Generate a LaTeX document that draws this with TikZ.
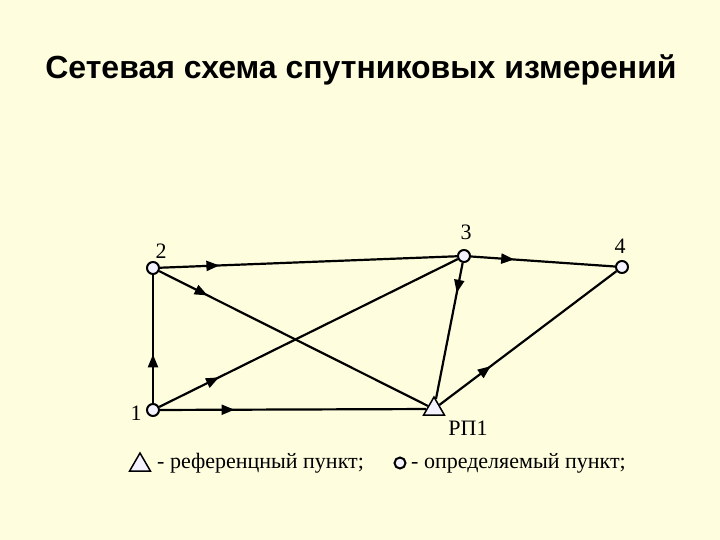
\documentclass[tikz,border=0pt]{standalone}
\usepackage{fontspec}
\setmainfont{Liberation Serif}
\newfontfamily\titlefont{Liberation Sans}
\usetikzlibrary{arrows.meta,decorations.markings,shapes.geometric}
\definecolor{slidebg}{HTML}{FEFEDF}
\definecolor{pointfill}{HTML}{F4F2FF}
\tikzset{
  point/.style={draw, circle, line width=2pt, fill=pointfill, minimum size=12pt, inner sep=0pt},
  refpoint/.style={draw, regular polygon, regular polygon sides=3, line width=1.5pt, fill=pointfill, minimum size=24pt, inner sep=0pt},
  link/.style={line width=2.2pt, postaction={decorate},
    decoration={markings, mark=at position #1 with {\arrow{Triangle[length=13pt,width=10pt]}}}},
  lbl/.style={font=\fontsize{22}{22}\selectfont, inner sep=0pt}
}
\begin{document}
\begin{tikzpicture}[x=1pt,y=-1pt]
\useasboundingbox[fill=slidebg] (0,0) rectangle (720,540);
\node[font=\titlefont\bfseries\fontsize{32}{32}\selectfont] (title) at (361,70) {Сетевая схема спутниковых измерений};
\node[point] (1) at (153,410) {};
\node[point] (2) at (153,268) {};
\node[point] (3) at (464,256) {};
\node[point] (4) at (622,267) {};
\node[refpoint] (rp) at (434,409) {};
\node[lbl] (l1) at (136,413) {1};
\node[lbl] (l2) at (161,251) {2};
\node[lbl] (l3) at (466,232) {3};
\node[lbl] (l4) at (620,246) {4};
\node[lbl] (lrp) at (468,428) {РП1};
\path[draw,link=0.38] (1) -- (2);
\path[draw,link=0.2] (2) -- (3);
\path[draw,link=0.18] (2) -- (rp);
\path[draw,link=0.2] (1) -- (3);
\path[draw,link=0.28] (1) -- (rp);
\path[draw,link=0.3] (3) -- (4);
\path[draw,link=0.22] (3) -- (rp);
\path[draw,link=0.29] (rp) -- (4);
% legend
\node[refpoint] (legref) at (140,465) {};
\node[lbl, anchor=west] (legreftext) at (157,463) {- референцный пункт;};
\node[point, minimum size=11pt] (legpt) at (400,463) {};
\node[lbl, anchor=west] (legpttext) at (411,463) {- определяемый пункт;};
\end{tikzpicture}
\end{document}
